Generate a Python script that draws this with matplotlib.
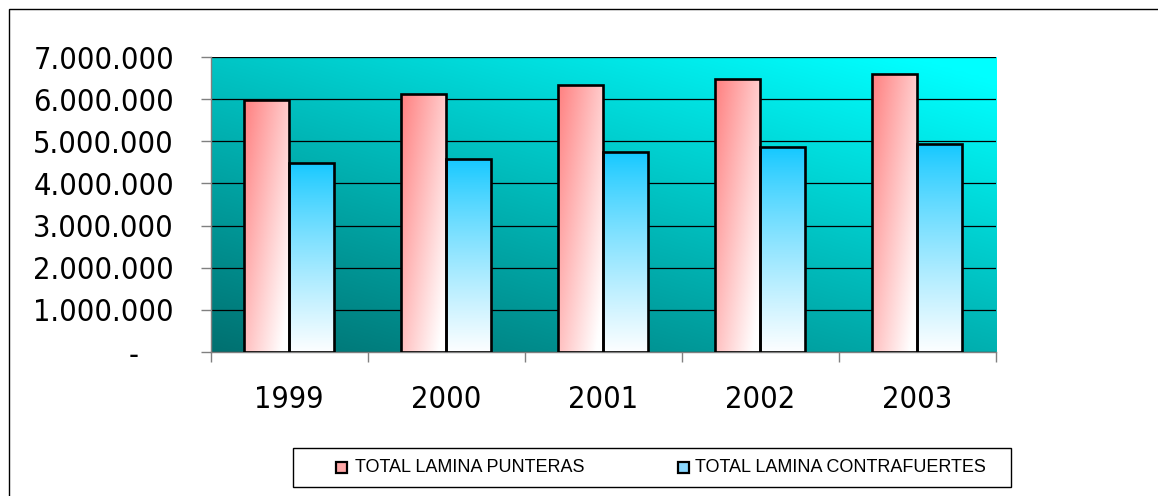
import numpy as np
import matplotlib.pyplot as plt
from matplotlib.patches import Rectangle
from matplotlib.ticker import FixedLocator, FuncFormatter

years = ["1999", "2000", "2001", "2002", "2003"]
punteras = [5980000, 6130000, 6330000, 6470000, 6590000]
contrafuertes = [4490000, 4590000, 4740000, 4860000, 4930000]
series_labels = ["TOTAL LAMINA PUNTERAS", "TOTAL LAMINA CONTRAFUERTES"]
y_ticks = [0, 1000000, 2000000, 3000000, 4000000, 5000000, 6000000, 7000000]

W, H = 1158, 496
fig = plt.figure(figsize=(W / 100, H / 100), dpi=100)
ax = fig.add_axes([210.5 / W, 144 / H, 785.5 / W, 295 / H])

x = np.arange(len(years))
xlim = (-0.5, len(years) - 0.5)
ylim = (0, 7000000)

# plot area background: teal -> cyan diagonal
n = 200
u, v = np.meshgrid(np.linspace(0, 1, n), np.linspace(0, 1, n))
t = np.clip(0.45 * u + 0.6 * v, 0, 1)
bg = np.zeros((n, n, 3))
bg[..., 1] = (112 + 143 * t) / 255
bg[..., 2] = (112 + 143 * t) / 255
ax.imshow(bg, extent=(*xlim, *ylim), origin="lower", aspect="auto", zorder=0)


def red_grad():
    uu, vv = np.meshgrid(np.linspace(0, 1, 60), np.linspace(0, 1, 60))
    k = np.clip(0.6 * uu + 0.5 * (1 - vv), 0, 1)
    img = np.ones((60, 60, 3))
    img[..., 1] = (128 + 127 * k) / 255
    img[..., 2] = (128 + 127 * k) / 255
    return img


def blue_grad():
    vv = np.linspace(0, 1, 80)[:, None] * np.ones((1, 10))
    k = (1 - vv) ** 0.85
    img = np.ones((80, 10, 3))
    img[..., 0] = (20 + 232 * k) / 255
    img[..., 1] = (200 + 54 * k) / 255
    img[..., 2] = 1.0
    return img


w = 0.2866
bars_p = ax.bar(x - w / 2, punteras, w, facecolor="none", edgecolor="black",
                linewidth=1.9, zorder=3)
bars_c = ax.bar(x + w / 2, contrafuertes, w, facecolor="none", edgecolor="black",
                linewidth=1.9, zorder=3)
for bars, grad in [(bars_p, red_grad()), (bars_c, blue_grad())]:
    for b in bars:
        x0, y0 = b.get_x(), b.get_y()
        im = ax.imshow(grad, extent=(x0, x0 + b.get_width(), y0, y0 + b.get_height()),
                       origin="lower", aspect="auto", zorder=2)
        im.set_clip_path(b)

ax.set_xlim(*xlim)
ax.set_ylim(*ylim)

ax.set_axisbelow(True)
ax.yaxis.grid(True, color="black", linewidth=0.9)
ax.set_yticks(y_ticks)
ax.yaxis.set_major_formatter(
    FuncFormatter(lambda val, pos: "-    " if val == 0 else f"{val:,.0f}".replace(",", "."))
)

ax.xaxis.set_major_locator(FixedLocator(np.arange(-0.5, len(years), 1.0)))
ax.xaxis.set_major_formatter(FuncFormatter(lambda val, pos: ""))
ax.xaxis.set_minor_locator(FixedLocator(x))
ax.set_xticklabels(years, minor=True)

for side in ["top", "right"]:
    ax.spines[side].set_visible(False)
for side in ["left", "bottom"]:
    ax.spines[side].set_color("#808080")
    ax.spines[side].set_linewidth(1)

ax.tick_params(axis="y", direction="out", length=7.2, width=1, color="#808080",
               pad=19, labelsize=22)
ax.tick_params(axis="x", which="major", direction="out", length=7.2, width=1,
               color="#808080")
ax.tick_params(axis="x", which="minor", length=0, pad=24, labelsize=22)
for lab in ax.get_yticklabels() + ax.get_xticklabels(minor=True):
    lab.set_fontfamily("DejaVu Sans")
    lab.set_fontstretch("condensed")

# outer chart border
fig.add_artist(Rectangle((9 / W, -0.1), 1.2, 1.1 - 9 / H, transform=fig.transFigure,
                         fill=False, edgecolor="black", linewidth=1))

# legend box
fig.add_artist(Rectangle((293 / W, 9 / H), 718 / W, 39 / H, transform=fig.transFigure,
                         fill=False, edgecolor="black", linewidth=1))
legend_items = [(336, 355, "#FFA8A8"), (678, 695, "#8AD8FF")]
for (mx, tx, col), label in zip(legend_items, series_labels):
    fig.add_artist(Rectangle((mx / W, 23 / H), 11 / W, 11 / H, transform=fig.transFigure,
                             facecolor=col, edgecolor="black", linewidth=1.6))
    fig.text(tx / W, 28.5 / H, label, fontsize=13, family="Liberation Sans",
             va="center", ha="left")

fig.savefig("out.png", dpi=100)
